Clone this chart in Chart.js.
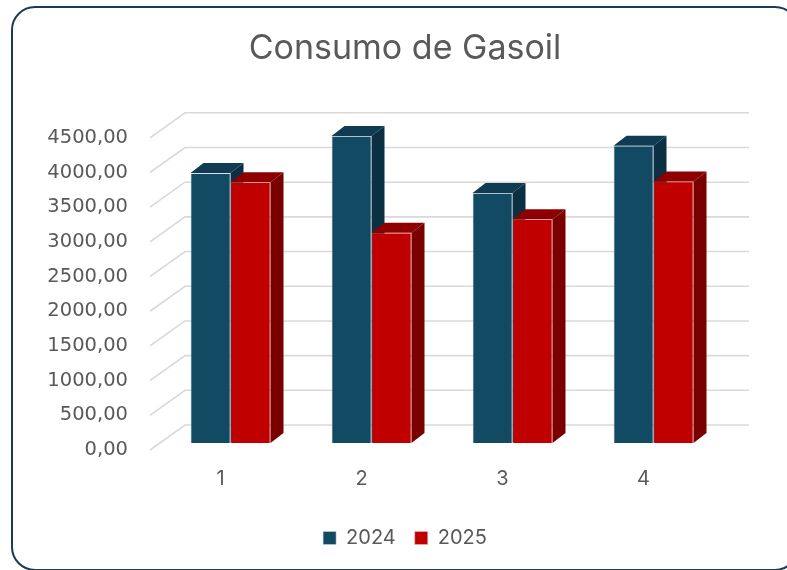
<!DOCTYPE html>
<html>
<head>
<meta charset="utf-8">
<script src="https://cdn.jsdelivr.net/npm/chart.js@4.4.1/dist/chart.umd.min.js"></script>
<style>
  html, body { margin: 0; padding: 0; background: #ffffff; overflow: hidden; width: 787px; height: 570px; }
  #wrap { position: absolute; left: 0; top: 0; width: 787px; height: 570px; }
  #frame { position: absolute; left: 11px; top: 6px; width: 788px; height: 565px; box-sizing: border-box;
           border: 2px solid #1b3a57; border-radius: 24px; pointer-events: none; }
</style>
</head>
<body>
<div id="wrap"><canvas id="c" width="787" height="570"></canvas></div>
<div id="frame"></div>
<script>
const categories = ['1', '2', '3', '4'];
const series2024 = [3890, 4425, 3605, 4285];
const series2025 = [3760, 3030, 3225, 3770];
const yMin = 0, yMax = 4500, yStep = 500;

const BAR_SHIFT = { x: 10, y: -7 };
const BAR_DEPTH = { x: 13, y: -10 };
const FLOOR_DEPTH = { x: 35, y: -25 };

function drawFaces(ctx, meta, topColor, sideColor) {
  meta.data.forEach(el => {
    const p = el.getProps(['x', 'y', 'base', 'width'], true);
    const l = p.x - p.width / 2, r = p.x + p.width / 2, t = p.y, b = p.base;
    ctx.fillStyle = topColor;
    ctx.beginPath();
    ctx.moveTo(l, t); ctx.lineTo(l + BAR_DEPTH.x, t + BAR_DEPTH.y);
    ctx.lineTo(r + BAR_DEPTH.x, t + BAR_DEPTH.y); ctx.lineTo(r, t); ctx.closePath(); ctx.fill();
    ctx.fillStyle = sideColor;
    ctx.beginPath();
    ctx.moveTo(r, t); ctx.lineTo(r + BAR_DEPTH.x, t + BAR_DEPTH.y);
    ctx.lineTo(r + BAR_DEPTH.x, b + BAR_DEPTH.y); ctx.lineTo(r, b); ctx.closePath(); ctx.fill();
  });
}

const bars3d = {
  id: 'bars3d',
  beforeDatasetsDraw(chart) {
    const { ctx, chartArea, scales: { y } } = chart;
    ctx.save();
    ctx.strokeStyle = '#d9d9d9';
    ctx.lineWidth = 1.6;
    y.ticks.forEach(t => {
      const yf = y.getPixelForValue(t.value);
      ctx.beginPath();
      ctx.moveTo(chartArea.left, yf);
      ctx.lineTo(chartArea.left + FLOOR_DEPTH.x, yf + FLOOR_DEPTH.y);
      ctx.lineTo(chartArea.right + FLOOR_DEPTH.x, yf + FLOOR_DEPTH.y);
      ctx.stroke();
    });
    ctx.restore();
    ctx.save();
    ctx.translate(BAR_SHIFT.x, BAR_SHIFT.y);
    drawFaces(ctx, chart.getDatasetMeta(0), '#0f3c52', '#0b3043');
  },
  afterDatasetsDraw(chart) {
    const { ctx } = chart;
    drawFaces(ctx, chart.getDatasetMeta(1), '#8e0000', '#7a0000');
    ctx.restore();
  }
};

const txt = '#595959';
const FONT = 'Inter, "Open Sans", sans-serif';
const TICKFONT = '"DejaVu Sans", Inter, sans-serif';

new Chart(document.getElementById('c'), {
  type: 'bar',
  data: {
    labels: categories,
    datasets: [
      { label: '2024', data: series2024, backgroundColor: '#124a63', borderColor: 'rgba(200,215,225,0.7)', borderWidth: 0.8 },
      { label: '2025', data: series2025, backgroundColor: '#c00000', borderColor: 'rgba(230,190,190,0.7)', borderWidth: 0.8 }
    ]
  },
  options: {
    responsive: false,
    animation: false,
    devicePixelRatio: 1,
    layout: { padding: { left: 23, right: 0, top: 0, bottom: 12 } },
    datasets: { bar: { categoryPercentage: 0.5674, barPercentage: 1.0, clip: false } },
    scales: {
      x: {
        grid: { display: false }, border: { display: false },
        afterFit(s) { s.height = s.height + 9; },
        ticks: { color: txt, padding: 9, font: { family: FONT, size: 20 } }
      },
      y: {
        min: yMin, max: yMax,
        grid: { display: false }, border: { display: false },
        afterFit(s) { s.width = 127; },
        ticks: {
          stepSize: yStep, color: txt, padding: 14, font: { family: TICKFONT, size: 19.5 },
          callback: v => Number(v).toFixed(2).replace('.', ',')
        }
      },
      yRight: {
        position: 'right', min: yMin, max: yMax,
        grid: { display: false }, border: { display: false },
        ticks: { display: false },
        afterFit(s) { s.width = 73; }
      }
    },
    plugins: {
      title: {
        display: true, text: 'Consumo de Gasoil', color: txt,
        font: { family: FONT, size: 34, weight: 'normal' },
        padding: { top: 28, bottom: 69 }
      },
      legend: {
        position: 'bottom',
        labels: { color: txt, boxWidth: 13, boxHeight: 13, padding: 19, font: { family: FONT, size: 20 } }
      },
      tooltip: { enabled: false }
    }
  },
  plugins: [bars3d]
});
</script>
</body>
</html>
